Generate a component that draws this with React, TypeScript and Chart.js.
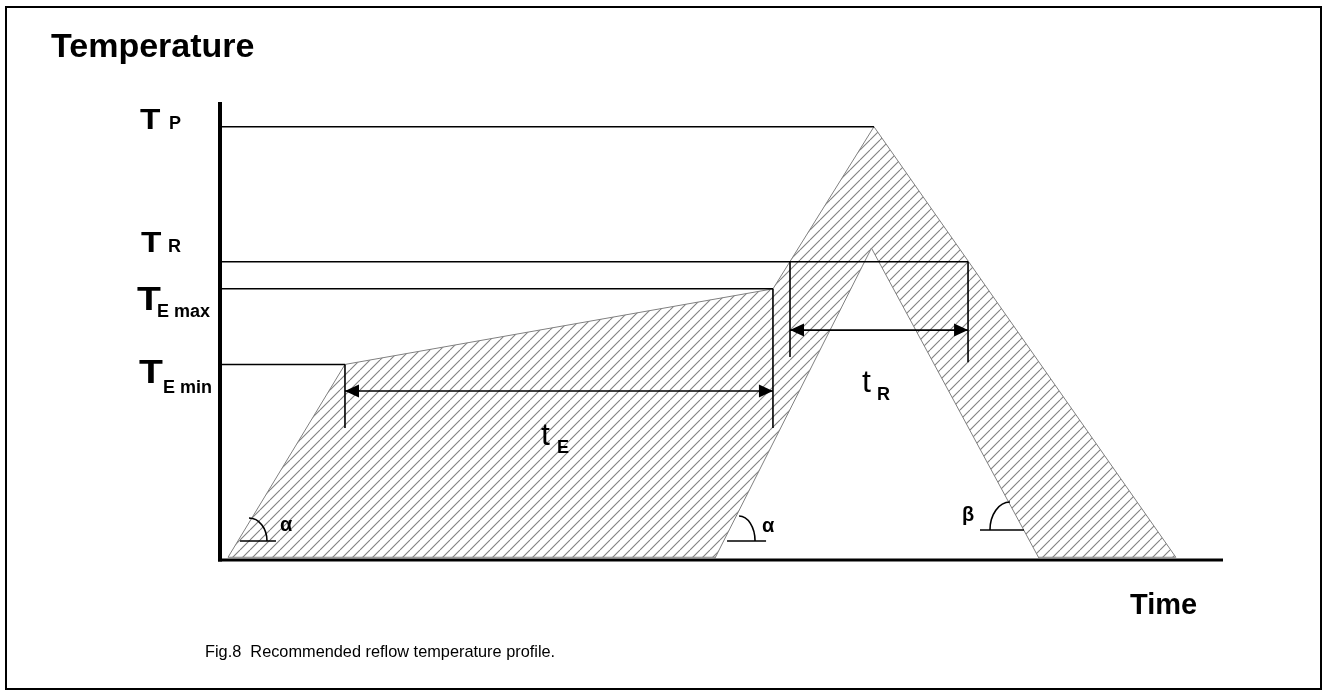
import React, { useEffect, useRef } from "react";
import { Chart, registerables } from "chart.js";

Chart.register(...registerables);

// ---- Schematic reflow profile (time, temperature) in relative units ----
// Upper bound of the allowed profile (closed outline of the hatched band)
const upperTime = [0.8, 12.46, 55.13, 65.2, 95.3, 0.8];
const upperTemp = [0.6, 42.7, 59.2, 94.6, 0.6, 0.6];
// Lower bound of the allowed profile (inner white triangle)
const lowerTime = [49.35, 64.95, 81.65];
const lowerTemp = [0.4, 68.1, 0.4];

// Temperature levels: T_P, T_R, T_E max, T_E min
const levelSubs = ["P", "R", "E max", "E min"];
const levelTemps = [94.6, 65.1, 59.2, 42.7];
const levelEnds = [65.2, 74.58, 55.13, 12.46];

// Time spans t_E and t_R
const spanSubs = ["E", "R"];
const spanStarts = [12.46, 56.83];
const spanEnds = [55.13, 74.58];
const spanArrowTemps = [36.9, 50.2];
const spanStartTops = [42.7, 65.1];
const spanEndTops = [59.2, 65.1];
const spanStartBottoms = [28.8, 44.3];
const spanEndBottoms = [28.8, 43.2];

// Slope angle markers
const angleNames = ["α", "α", "β"];
const angleTimes = [2.89, 51.75, 78.76];
const angleTemps = [4.15, 4.15, 6.55];

const FONT = '"Liberation Sans", Arial, Helvetica, sans-serif';

function seg(x1: number, y1: number, x2: number, y2: number, width: number, order = 1) {
  return {
    data: [
      { x: x1, y: y1 },
      { x: x2, y: y2 },
    ],
    borderColor: "#000",
    borderWidth: width,
    pointRadius: 0,
    fill: false,
    clip: false as const,
    order,
  };
}

export default function App() {
  const ref = useRef<HTMLCanvasElement | null>(null);

  useEffect(() => {
    const canvas = ref.current;
    if (!canvas) return;
    const ctx0 = canvas.getContext("2d")!;

    // hatch pattern
    const pc = document.createElement("canvas");
    pc.width = 10;
    pc.height = 10;
    const p = pc.getContext("2d")!;
    p.strokeStyle = "#808080";
    p.lineWidth = 1.1;
    for (const dx of [-10, 0, 10]) {
      p.beginPath();
      p.moveTo(dx, 10);
      p.lineTo(dx + 10, 0);
      p.stroke();
    }
    const hatch = ctx0.createPattern(pc, "repeat")!;

    const datasets: any[] = [];
    datasets.push({
      data: upperTime.map((x, i) => ({ x, y: upperTemp[i] })),
      borderColor: "#808080",
      borderWidth: 1,
      backgroundColor: hatch,
      fill: "shape",
      pointRadius: 0,
      clip: false,
      order: 6,
    });
    datasets.push({
      data: lowerTime.map((x, i) => ({ x, y: lowerTemp[i] })),
      borderColor: "#808080",
      borderWidth: 1,
      backgroundColor: "#ffffff",
      fill: "shape",
      pointRadius: 0,
      clip: false,
      order: 5,
    });
    levelTemps.forEach((t, i) => datasets.push(seg(0, t, levelEnds[i], t, 1.5)));
    spanStarts.forEach((s, i) => {
      datasets.push(seg(s, spanStartTops[i], s, spanStartBottoms[i], 1.6));
      datasets.push(seg(spanEnds[i], spanEndTops[i], spanEnds[i], spanEndBottoms[i], 1.6));
      datasets.push(seg(s, spanArrowTemps[i], spanEnds[i], spanArrowTemps[i], 1.6));
    });
    // axes
    datasets.push(seg(0, -0.35, 0, 100, 4, 0));
    datasets.push(seg(-0.2, 0, 100, 0, 3, 0));

    const txt = (
      ctx: CanvasRenderingContext2D,
      s: string,
      x: number,
      y: number,
      font: string,
      sx = 1
    ) => {
      ctx.save();
      ctx.font = font;
      ctx.textBaseline = "alphabetic";
      ctx.textAlign = "left";
      ctx.fillStyle = "#000";
      ctx.translate(x, y);
      ctx.scale(sx, 1);
      ctx.fillText(s, 0, 0);
      ctx.restore();
    };

    const arrowHead = (ctx: CanvasRenderingContext2D, x: number, y: number, dir: number) => {
      const L = 14;
      const H = 6.5;
      ctx.beginPath();
      ctx.moveTo(x, y);
      ctx.lineTo(x + dir * L, y - H);
      ctx.lineTo(x + dir * L, y + H);
      ctx.closePath();
      ctx.fillStyle = "#000";
      ctx.fill();
    };

    const levelStyle = [
      { tX: 140, tDy: 2.5, tSize: 29, sX: 169, sDy: 2.5 },
      { tX: 141, tDy: -10, tSize: 29, sX: 168, sDy: -10 },
      { tX: 137, tDy: 21, tSize: 34, sX: 157, sDy: 28 },
      { tX: 139, tDy: 18.5, tSize: 34, sX: 163, sDy: 28.5 },
    ];
    const angleStyle = [
      { l: -9, r: 27, rx: 18, ry: 23, a0: -Math.PI / 2, a1: 0, tx: 31, ty: -10 },
      { l: -12, r: 27, rx: 16, ry: 25, a0: -Math.PI / 2, a1: 0, tx: 23, ty: -9 },
      { l: -30, r: 14, rx: 20, ry: 28, a0: Math.PI, a1: Math.PI * 1.5, tx: -48, ty: -9 },
    ];
    const spanStyle = [
      { tdx: -18, tdy: 54, sdx: -2, sdy: 62 },
      { tdx: -17, tdy: 62, sdx: -2, sdy: 70 },
    ];

    const annot = {
      id: "annot",
      afterDatasetsDraw(chart: any) {
        const ctx: CanvasRenderingContext2D = chart.ctx;
        const xs = chart.scales.x;
        const ys = chart.scales.y;
        ctx.save();
        // frame
        ctx.strokeStyle = "#000";
        ctx.lineWidth = 2;
        ctx.strokeRect(6, 7, 1315, 682);

        // titles
        txt(ctx, "Temperature", 51, 57, `bold 34px ${FONT}`);
        txt(ctx, "Time", 1130, 614, `bold 29px ${FONT}`);
        txt(ctx, "Fig.8  Recommended reflow temperature profile.", 205, 657, `17px ${FONT}`, 0.96);

        // level labels
        levelTemps.forEach((t, i) => {
          const y = ys.getPixelForValue(t);
          const st = levelStyle[i];
          txt(ctx, "T", st.tX, y + st.tDy, `bold ${st.tSize}px ${FONT}`, 1.15);
          txt(ctx, levelSubs[i], st.sX, y + st.sDy, `bold 18px ${FONT}`);
        });

        // span arrows & labels
        spanStarts.forEach((s, i) => {
          const x1 = xs.getPixelForValue(s);
          const x2 = xs.getPixelForValue(spanEnds[i]);
          const y = ys.getPixelForValue(spanArrowTemps[i]);
          arrowHead(ctx, x1, y, 1);
          arrowHead(ctx, x2, y, -1);
          const mid = (x1 + x2) / 2;
          const st = spanStyle[i];
          txt(ctx, "t", mid + st.tdx, y + st.tdy, `32px ${FONT}`);
          txt(ctx, spanSubs[i], mid + st.sdx, y + st.sdy, `bold 18px ${FONT}`);
        });

        // angle markers
        angleNames.forEach((n, i) => {
          const cx = xs.getPixelForValue(angleTimes[i]);
          const cy = ys.getPixelForValue(angleTemps[i]);
          const st = angleStyle[i];
          ctx.strokeStyle = "#000";
          ctx.lineWidth = 1.6;
          ctx.beginPath();
          ctx.moveTo(cx + st.l, cy);
          ctx.lineTo(cx + st.r, cy);
          ctx.stroke();
          ctx.beginPath();
          ctx.ellipse(cx, cy, st.rx, st.ry, 0, st.a0, st.a1);
          ctx.stroke();
          txt(ctx, n, cx + st.tx, cy + st.ty, `bold 20px ${FONT}`);
        });
        ctx.restore();
      },
    };

    const chart = new Chart(canvas, {
      type: "line",
      data: { datasets },
      options: {
        animation: false,
        responsive: false,
        devicePixelRatio: 1,
        events: [],
        layout: { padding: { left: 220, right: 104, top: 102, bottom: 135 } },
        plugins: {
          legend: { display: false },
          tooltip: { enabled: false },
          title: { display: false },
        },
        elements: { line: { tension: 0 } },
        scales: {
          x: { type: "linear", min: 0, max: 100, display: false },
          y: { type: "linear", min: 0, max: 100, display: false },
        },
      },
      plugins: [annot as any],
    });
    return () => chart.destroy();
  }, []);

  return (
    <div style={{ position: "absolute", left: 0, top: 0, width: 1327, height: 695, background: "#fff" }}>
      <canvas ref={ref} width={1327} height={695} style={{ display: "block", width: 1327, height: 695 }} />
    </div>
  );
}
